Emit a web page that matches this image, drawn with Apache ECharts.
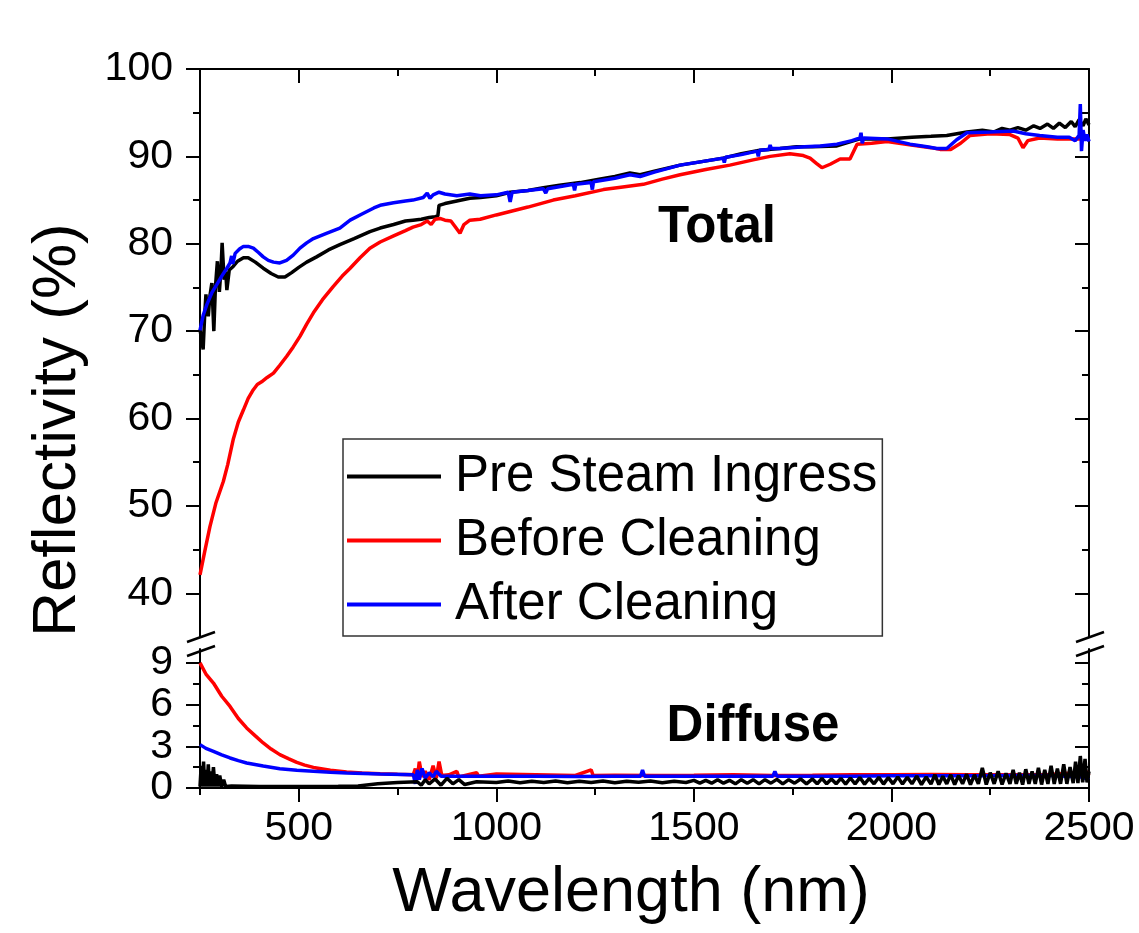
<!DOCTYPE html>
<html>
<head>
<meta charset="utf-8">
<script src="https://cdn.jsdelivr.net/npm/echarts@6/dist/echarts.min.js"></script>
<style>html,body{margin:0;padding:0;background:#fff;}#chart{width:1139px;height:933px;}</style>
</head>
<body>
<div id="chart"></div>
<script>
// ---------- DATA ----------
const seriesNames = ['Pre Steam Ingress', 'Before Cleaning', 'After Cleaning'];
const seriesColors = ['#000000', '#ff0000', '#0000ff'];

const xMajorTicks = [500, 1000, 1500, 2000, 2500];
const xMinorTicks = [250, 750, 1250, 1750, 2250];
const totalMajorTicks = [40, 50, 60, 70, 80, 90, 100];
const totalMinorTicks = [45, 55, 65, 75, 85, 95];
const diffuseMajorTicks = [0, 3, 6, 9];
const diffuseMinorTicks = [1.5, 4.5, 7.5];

// Total reflectivity (%)
const totalPre = [
[250,70.2],[254,70.0],[258,67.9],[262,72.0],[265,74.2],[268,72.5],[271,71.7],[275,74.0],[280,75.5],[285,70.0],
[289,75.0],[294,78.0],[299,74.5],[303,77.0],[306,80.1],[311,75.9],[315,76.8],[318,74.7],[324,77.0],[334,77.4],
[345,78.0],[360,78.4],[372,78.4],[390,77.9],[410,77.2],[430,76.6],[448,76.2],[465,76.2],[482,76.7],[500,77.3],
[520,77.9],[545,78.5],[575,79.3],[604,79.9],[640,80.6],[680,81.4],[706,81.8],[740,82.2],[770,82.6],[789,82.7],
[810,82.8],[830,83.0],[845,83.1],[852,83.2],[855,84.4],[870,84.6],[900,84.9],[933,85.2],[960,85.3],[1000,85.5],
[1035,85.9],[1080,86.1],[1119,86.4],[1160,86.7],[1212,87.0],[1260,87.4],[1300,87.7],[1338,88.1],[1364,87.9],[1400,88.3],
[1465,89.0],[1520,89.4],[1574,89.8],[1620,90.3],[1667,90.7],[1718,90.9],[1760,91.1],[1800,91.1],[1862,91.2],[1920,92.0],
[1989,92.0],[2052,92.2],[2100,92.3],[2140,92.4],[2191,92.8],[2230,93.0],[2260,92.8],[2280,93.2],[2300,93.0],[2320,93.3],
[2340,93.0],[2360,93.5],[2376,93.2],[2395,93.7],[2410,93.2],[2425,93.8],[2440,93.3],[2455,94.0],[2465,93.4],[2475,94.2],
[2485,93.5],[2492,94.3],[2500,93.6]
];
const totalBefore = [
[250,42.1],[262,44.8],[275,47.6],[290,50.3],[309,52.8],[320,54.7],[334,57.6],[347,59.6],[360,61.0],[372,62.3],
[385,63.3],[395,63.9],[406,64.2],[420,64.7],[436,65.2],[452,66.1],[469,67.1],[486,68.2],[503,69.4],[520,70.8],
[537,72.1],[560,73.6],[587,75.1],[610,76.3],[630,77.2],[655,78.4],[680,79.5],[706,80.2],[740,80.9],[770,81.5],
[789,81.9],[810,82.2],[825,82.6],[835,82.2],[845,82.8],[857,82.9],[870,82.7],[885,82.6],[895,82.0],[908,81.2],
[918,82.2],[933,82.7],[959,82.8],[1000,83.3],[1035,83.7],[1080,84.2],[1144,85.0],[1200,85.5],[1271,86.2],[1320,86.5],
[1372,86.8],[1420,87.4],[1465,87.9],[1530,88.5],[1591,89.0],[1650,89.6],[1693,90.0],[1743,90.3],[1777,90.1],[1794,89.8],
[1810,89.2],[1824,88.7],[1845,89.1],[1870,89.7],[1895,89.7],[1913,91.4],[1950,91.5],[1989,91.7],[2050,91.3],[2100,91.0],
[2123,90.8],[2150,90.8],[2175,91.5],[2199,92.4],[2250,92.6],[2300,92.5],[2320,92.1],[2333,91.0],[2345,91.8],[2375,92.1],
[2420,92.0],[2460,92.0],[2500,92.0]
];
const totalAfter = [
[250,70.1],[258,71.8],[267,73.0],[280,74.4],[292,75.3],[305,76.3],[318,77.2],[326,77.8],[330,78.6],[333,77.7],
[339,78.9],[350,79.4],[360,79.7],[372,79.7],[385,79.5],[398,79.0],[410,78.5],[423,78.1],[436,77.9],[452,77.8],
[469,78.1],[486,78.7],[503,79.5],[520,80.1],[537,80.6],[570,81.2],[604,81.8],[630,82.7],[660,83.4],[690,84.1],
[706,84.4],[740,84.7],[770,84.9],[789,85.0],[815,85.3],[825,85.8],[832,85.2],[840,85.6],[855,85.9],[870,85.7],
[900,85.5],[933,85.7],[960,85.5],[1000,85.6],[1030,85.9],[1035,84.8],[1040,85.9],[1080,86.1],[1119,86.3],[1125,85.8],
[1130,86.3],[1170,86.6],[1195,86.8],[1198,86.1],[1201,86.8],[1240,87.0],[1243,86.2],[1246,87.1],[1300,87.5],[1338,87.9],
[1364,87.7],[1400,88.2],[1465,89.0],[1520,89.4],[1574,89.8],[1577,89.3],[1580,89.9],[1620,90.2],[1660,90.6],[1663,90.0],
[1666,90.7],[1690,90.8],[1693,91.3],[1696,90.9],[1718,90.9],[1780,91.1],[1820,91.2],[1862,91.4],[1900,91.8],[1920,92.1],
[1923,92.7],[1926,91.5],[1930,92.1],[1989,92.0],[2047,91.4],[2090,91.1],[2115,90.9],[2140,90.9],[2165,91.9],[2191,92.7],
[2250,92.8],[2308,92.9],[2340,92.6],[2375,92.4],[2420,92.2],[2450,92.2],[2465,91.8],[2475,92.4],[2478,96.0],[2481,90.6],
[2485,93.0],[2490,91.8],[2495,92.5],[2500,91.7]
];

// Diffuse reflectivity (%)
const diffusePre = [
[250,0.1],[253,1.6],[256,0.1],[259,1.9],[262,0.1],[265,1.3],[268,0.1],[271,1.7],[274,0.1],[277,1.2],
[280,0.1],[284,1.5],[288,0.1],[292,1.0],[296,0.1],[300,0.9],[305,0.1],[310,0.6],[315,0.1],[330,0.15],
[400,0.1],[500,0.1],[600,0.12],[650,0.15],[700,0.3],[750,0.4],[800,0.45],[810,0.2],[820,0.6],[830,0.3],
[845,0.65],[860,0.2],[875,0.7],[890,0.3],[905,0.6],[920,0.25],[950,0.45],[1000,0.4],[1030,0.5],[1060,0.38],
[1090,0.48],[1120,0.4],[1150,0.5],[1180,0.38],[1210,0.48],[1240,0.4],[1270,0.5],[1300,0.38],[1330,0.48],[1360,0.42],
[1390,0.5],[1420,0.38],[1450,0.48],[1480,0.4],[1500,0.55],[1515,0.35],[1530,0.55],[1545,0.35],[1560,0.6],[1575,0.35],
[1590,0.55],[1605,0.3],[1620,0.6],[1635,0.35],[1650,0.6],[1665,0.3],[1680,0.6],[1695,0.35],[1710,0.62],[1725,0.3],
[1740,0.6],[1755,0.35],[1770,0.65],[1785,0.3],[1800,0.65],[1812,0.3],[1824,0.7],[1836,0.3],[1848,0.65],[1860,0.3],
[1872,0.7],[1884,0.28],[1896,0.72],[1908,0.3],[1920,0.75],[1932,0.28],[1944,0.7],[1956,0.3],[1968,0.78],[1980,0.28],
[1992,0.75],[2004,0.3],[2016,0.8],[2028,0.28],[2040,0.78],[2052,0.3],[2064,0.85],[2076,0.25],[2088,0.8],[2100,0.28],
[2110,0.95],[2120,0.25],[2130,0.85],[2140,0.3],[2150,0.95],[2160,0.25],[2170,0.9],[2180,0.3],[2190,1.0],[2200,0.25],
[2210,0.95],[2220,0.3],[2230,1.45],[2240,0.25],[2250,1.1],[2260,0.3],[2270,1.2],[2280,0.25],[2290,1.05],[2300,0.3],
[2308,1.3],[2316,0.3],[2324,1.1],[2332,0.25],[2340,1.35],[2348,0.3],[2356,1.2],[2364,0.3],[2372,1.45],[2380,0.25],
[2388,1.3],[2396,0.3],[2404,1.6],[2412,0.3],[2420,1.4],[2428,0.3],[2436,1.7],[2444,0.3],[2452,1.5],[2460,0.35],
[2466,1.9],[2472,0.35],[2478,2.3],[2484,0.4],[2490,2.1],[2495,0.4],[2500,1.2]
];
const diffuseBefore = [
[250,9.0],[265,8.2],[284,7.55],[305,6.6],[326,5.87],[347,5.0],[368,4.32],[390,3.75],[410,3.24],[430,2.8],
[452,2.40],[475,2.1],[495,1.84],[515,1.65],[537,1.48],[580,1.28],[621,1.15],[660,1.08],[706,1.03],[750,0.99],
[790,0.96],[795,1.4],[800,0.7],[805,1.9],[812,0.8],[820,1.2],[830,0.6],[840,1.6],[848,0.7],[855,1.9],
[862,0.9],[880,0.95],[900,1.2],[905,0.8],[950,1.1],[955,0.85],[1000,1.0],[1100,0.95],[1200,0.9],[1240,1.3],
[1245,0.9],[1300,0.92],[1400,0.9],[1500,0.92],[1600,0.95],[1700,0.9],[1800,0.92],[1900,0.95],[2000,0.95],[2100,0.98],
[2200,0.95],[2300,0.95],[2400,0.98],[2470,1.1],[2490,1.3],[2500,0.9]
];
const diffuseAfter = [
[250,3.12],[265,2.85],[284,2.63],[305,2.38],[326,2.16],[347,1.97],[368,1.80],[410,1.58],[452,1.39],[495,1.28],
[537,1.20],[580,1.13],[621,1.08],[706,1.0],[790,0.96],[795,0.3],[800,1.3],[805,0.6],[812,1.4],[820,0.7],
[830,1.1],[840,0.8],[848,1.2],[860,0.85],[900,0.85],[1000,0.85],[1100,0.85],[1200,0.83],[1300,0.85],[1365,0.85],
[1370,1.3],[1375,0.85],[1500,0.85],[1600,0.85],[1700,0.85],[1705,1.2],[1710,0.85],[1800,0.85],[1900,0.85],[2000,0.88],
[2100,0.88],[2200,0.88],[2300,0.9],[2400,0.9],[2480,0.8],[2500,0.6]
];

// ---------- CHART ----------
const FONT = '"Liberation Sans", Arial, Helvetica, sans-serif';
const AX = { color: '#000', width: 2 };
const chart = echarts.init(document.getElementById('chart'), null, { renderer: 'canvas' });
const plainNum = function (v) { return String(v); };

function xAxisDef(grid, pos, ticks, len, inside, showLine, labels) {
  return {
    type: 'value', gridIndex: grid, position: pos, min: 250, max: 2500,
    axisLine: { show: showLine, onZero: false, lineStyle: AX },
    axisTick: { show: true, inside: inside, length: len, customValues: ticks, lineStyle: AX },
    axisLabel: labels ? { show: true, customValues: ticks, formatter: plainNum, fontSize: 41, fontFamily: FONT, color: '#000', margin: 20 } : { show: false },
    splitLine: { show: false }
  };
}
function yAxisDef(grid, pos, min, max, ticks, len, inside, showLine, labels) {
  return {
    type: 'value', gridIndex: grid, position: pos, min: min, max: max,
    axisLine: { show: showLine, onZero: false, lineStyle: AX },
    axisTick: { show: true, inside: inside, length: len, customValues: ticks, lineStyle: AX },
    axisLabel: labels ? { show: true, customValues: ticks, formatter: plainNum, fontSize: 41, fontFamily: FONT, color: '#000', margin: 27 } : { show: false },
    splitLine: { show: false }
  };
}

function lineSeries(name, color, data, xi, yi, z) {
  return {
    name: name, type: 'line', xAxisIndex: xi, yAxisIndex: yi, data: data, z: z,
    symbol: 'none', showSymbol: false, smooth: false, animation: false,
    lineStyle: { color: color, width: 3.5 }, itemStyle: { color: color }, clip: true
  };
}

const option = {
  animation: false,
  backgroundColor: '#fff',
  grid: [
    { left: 200, right: 50, top: 69, height: 568 },
    { left: 200, right: 50, top: 649, height: 139 }
  ],
  xAxis: [
    xAxisDef(0, 'top', xMajorTicks, 14, true, true, false),
    xAxisDef(0, 'top', xMinorTicks, 7, true, false, false),
    xAxisDef(1, 'bottom', xMajorTicks, 14, false, true, true),
    xAxisDef(1, 'bottom', xMinorTicks, 7, false, false, false)
  ],
  yAxis: [
    yAxisDef(0, 'left', 35, 100, totalMajorTicks, 14, false, true, true),
    yAxisDef(0, 'left', 35, 100, totalMinorTicks, 7, false, false, false),
    yAxisDef(0, 'right', 35, 100, totalMajorTicks, 14, true, true, false),
    yAxisDef(0, 'right', 35, 100, totalMinorTicks, 7, true, false, false),
    yAxisDef(1, 'left', 0, 10, diffuseMajorTicks, 14, false, true, true),
    yAxisDef(1, 'left', 0, 10, diffuseMinorTicks, 7, false, false, false),
    yAxisDef(1, 'right', 0, 10, diffuseMajorTicks, 14, true, true, false),
    yAxisDef(1, 'right', 0, 10, diffuseMinorTicks, 7, true, false, false)
  ],
  legend: {
    data: seriesNames,
    orient: 'vertical',
    left: 343, top: 439,
    padding: [12, 5, 6, 4],
    icon: 'rect',
    itemWidth: 94, itemHeight: 4, itemGap: 13,
    borderColor: '#333', borderWidth: 1.5,
    textStyle: { fontSize: 51, fontFamily: FONT, color: '#000', padding: [0, 0, 0, 9] }
  },
  series: [
    lineSeries(seriesNames[0], seriesColors[0], totalPre, 0, 0, 2),
    lineSeries(seriesNames[1], seriesColors[1], totalBefore, 0, 0, 2),
    lineSeries(seriesNames[2], seriesColors[2], totalAfter, 0, 0, 2),
    lineSeries(seriesNames[0], seriesColors[0], diffusePre, 2, 4, 3),
    lineSeries(seriesNames[1], seriesColors[1], diffuseBefore, 2, 4, 2),
    lineSeries(seriesNames[2], seriesColors[2], diffuseAfter, 2, 4, 2)
  ]
};
chart.setOption(option);

// Annotations and axis-break marks
const leftX = chart.convertToPixel({ xAxisIndex: 0 }, 250);
const rightX = chart.convertToPixel({ xAxisIndex: 0 }, 2500);
const topBottomY = chart.convertToPixel({ yAxisIndex: 0 }, 35);
const botTopY = chart.convertToPixel({ yAxisIndex: 4 }, 10);
function slash(x, y) {
  return { type: 'line', shape: { x1: x - 13, y1: y + 5, x2: x + 15, y2: y - 5 },
           style: { stroke: '#000', lineWidth: 2.5 }, z: 100 };
}
chart.setOption({
  graphic: [
    slash(leftX, topBottomY), slash(leftX, botTopY + 2),
    slash(rightX, topBottomY), slash(rightX, botTopY + 2),
    { type: 'text', x: 717, y: 228, style: { text: 'Total', font: 'bold 51px ' + FONT, fill: '#000', align: 'center', verticalAlign: 'middle' } },
    { type: 'text', x: 753, y: 727, style: { text: 'Diffuse', font: 'bold 51px ' + FONT, fill: '#000', align: 'center', verticalAlign: 'middle' } },
    { type: 'text', x: 631, y: 894, style: { text: 'Wavelength (nm)', font: '63px ' + FONT, fill: '#000', align: 'center', verticalAlign: 'middle' } },
    { type: 'text', x: 58, y: 430, rotation: Math.PI / 2, style: { text: 'Reflectivity (%)', font: '62px ' + FONT, fill: '#000', align: 'center', verticalAlign: 'middle' } }
  ]
});
</script>
</body>
</html>
